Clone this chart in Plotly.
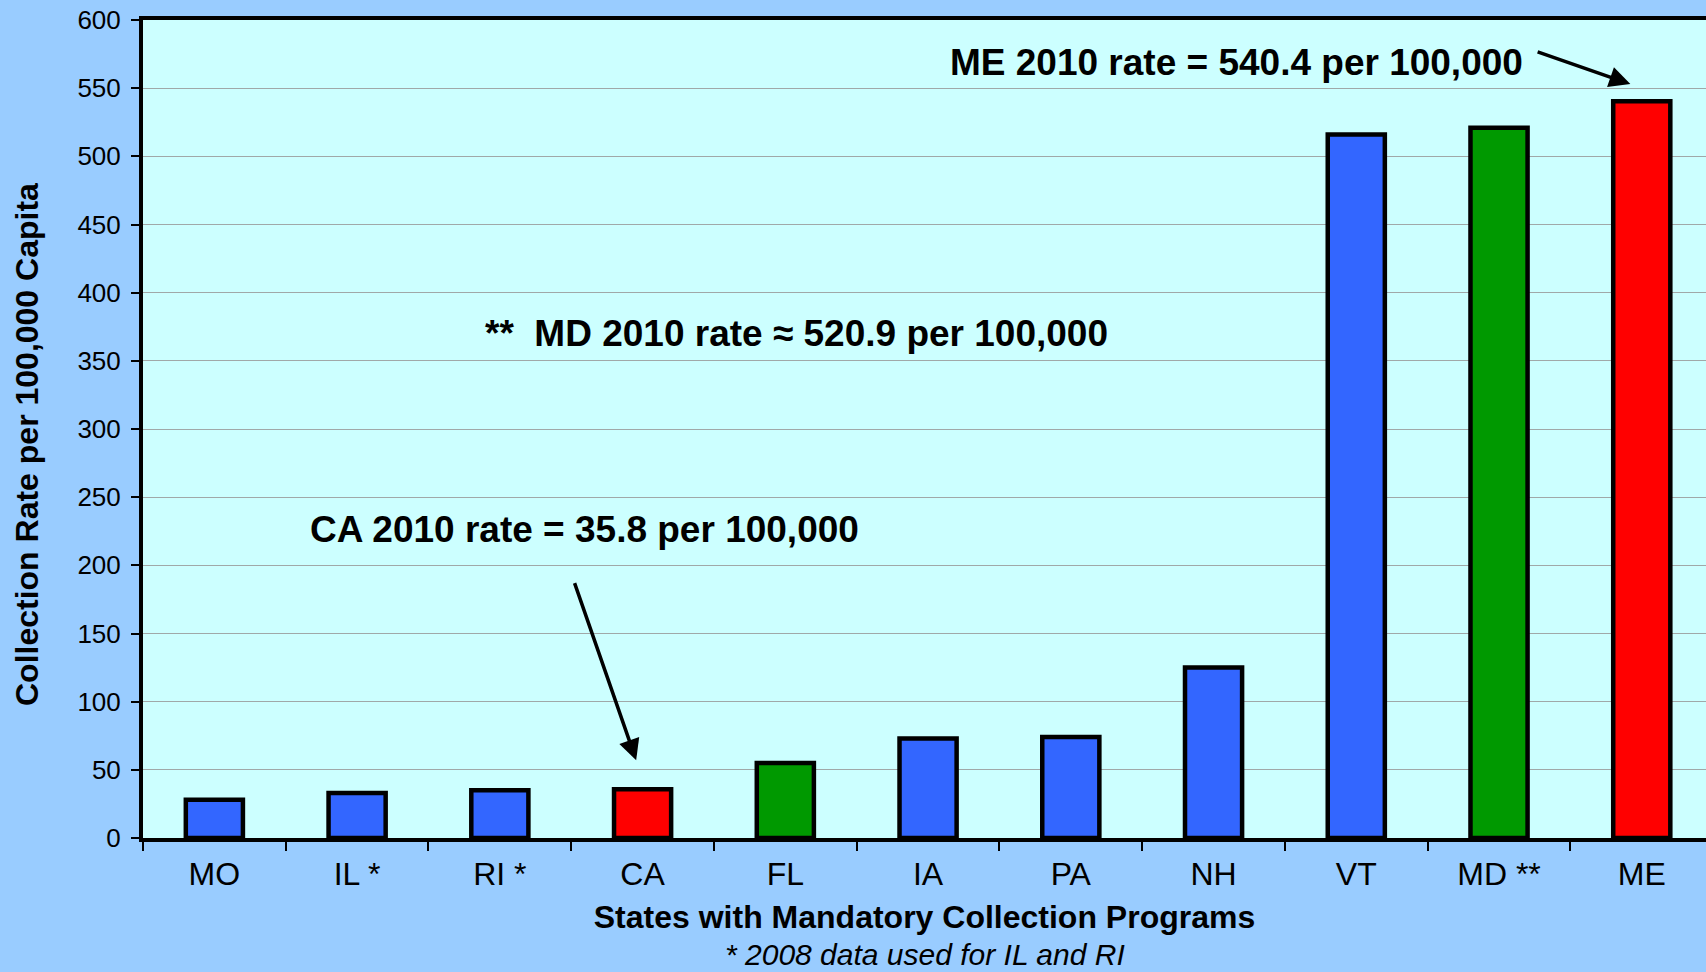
import plotly.graph_objects as go

# Data
states = ["MO", "IL *", "RI *", "CA", "FL", "IA", "PA", "NH", "VT", "MD **", "ME"]
rates = [28, 33, 35, 35.8, 55, 73, 74, 125, 516, 520.9, 540.4]
bar_colors = ["#3366FF", "#3366FF", "#3366FF", "#FF0000", "#009900", "#3366FF",
              "#3366FF", "#3366FF", "#3366FF", "#009900", "#FF0000"]

y_ticks = list(range(0, 601, 50))

FONT = "Liberation Sans, Arial, sans-serif"

fig = go.Figure()

bars = go.Bar(
    x=states,
    y=rates,
    width=0.4,
    marker=dict(color=bar_colors, line=dict(color="black", width=4.5)),
    showlegend=False,
    hoverinfo="x+y",
)
fig.add_trace(bars)

fig.update_layout(
    width=1706,
    height=972,
    margin=dict(l=143, r=0, t=20, b=134),
    paper_bgcolor="#99CCFF",
    plot_bgcolor="#CCFFFF",
    font=dict(family=FONT, color="black"),
)

fig.update_xaxes(
    type="category",
    range=[-0.5, 10.45],
    showline=True,
    linecolor="black",
    linewidth=4,
    mirror=True,
    ticks="outside",
    tickson="boundaries",
    ticklen=9,
    tickwidth=2,
    tickcolor="black",
    ticklabelstandoff=5,
    tickfont=dict(size=32, family=FONT),
    showgrid=False,
    title=dict(text="<b>States with Mandatory Collection Programs</b>",
               font=dict(size=32, family=FONT), standoff=15),
)

fig.update_yaxes(
    range=[0, 600],
    tickvals=y_ticks,
    showline=True,
    linecolor="black",
    linewidth=4,
    ticks="outside",
    ticklen=8,
    tickwidth=2,
    tickcolor="black",
    ticklabelstandoff=5,
    tickfont=dict(size=26, family=FONT),
    showgrid=True,
    gridcolor="#A0A8A8",
    gridwidth=1,
    zeroline=False,
)

# y title as an annotation: it sits a bit below the plot's middle in the original
fig.add_annotation(x=0, y=0.5, xref="paper", yref="paper", xshift=-116, yshift=-16,
                   xanchor="center", yanchor="middle",
                   text="<b>Collection Rate per 100,000 Capita</b>", textangle=-90,
                   showarrow=False, font=dict(size=32, family=FONT, color="black"))

notes = [
    # text, x, y
    ("<b>ME 2010 rate = 540.4 per 100,000</b>", 7.16, 569),
    ("<b>**\u00a0\u00a0MD 2010 rate \u2248 520.9 per 100,000</b>", 4.08, 370),
    ("<b>CA 2010 rate = 35.8 per 100,000</b>", 2.59, 226),
]
for text, x, y in notes:
    fig.add_annotation(x=x, y=y, xref="x", yref="y", text=text, showarrow=False,
                       font=dict(size=37, family=FONT, color="black"))

# arrows: (head x, head y, tail x, tail y)
arrows = [
    (9.92, 553, 9.26, 577),
    (2.955, 57, 2.52, 188),
]
for hx, hy, tx, ty in arrows:
    fig.add_annotation(x=hx, y=hy, ax=tx, ay=ty, xref="x", yref="y",
                       axref="x", ayref="y", text="", showarrow=True,
                       arrowhead=2, arrowsize=1.2, arrowwidth=3.5,
                       arrowcolor="black")

fig.add_annotation(x=0.5, y=0, xref="paper", yref="paper", yshift=-134,
                   text="<i>* 2008 data used for IL and RI</i>", showarrow=False,
                   yanchor="bottom", borderpad=0,
                   font=dict(size=30, family=FONT, color="black"))

# drop the default page margin so the figure sits at the window corner
fig.write_html("out.html", config={"displayModeBar": False},
               post_script="document.body.style.margin='0px';")
